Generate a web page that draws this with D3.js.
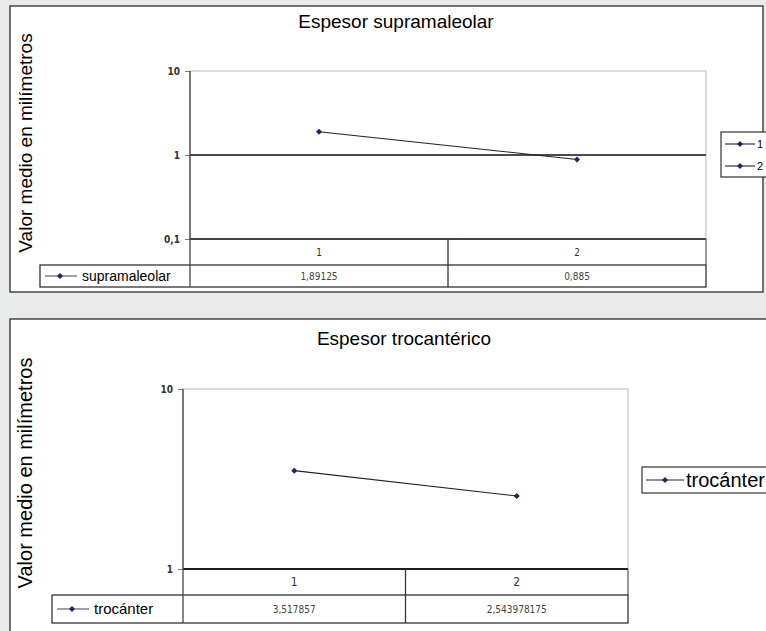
<!DOCTYPE html>
<html>
<head>
<meta charset="utf-8">
<script src="https://cdn.jsdelivr.net/npm/d3@7"></script>
<style>
  body { margin:0; background:#e9ebea; }
  svg { display:block; font-family:"Liberation Sans", Arial, sans-serif; }
</style>
</head>
<body>
<div id="chart"></div>
<script>
// data
var categories = ["1", "2"];
var supraValues = [1.89125, 0.885];
var supraLabels = ["1,89125", "0,885"];
var supraTicks = [0.1, 1, 10];
var trocValues = [3.517857, 2.543978175];
var trocLabels = ["3,517857", "2,543978175"];
var trocTicks = [1, 10];

var W = 766, H = 631;
var svg = d3.select('#chart').append('svg')
            .attr('width', W).attr('height', H);

var navy = '#23235e';
var fmtTick = function(v) { return String(v).replace('.', ','); };

// excel-like diamond: a square turned 45 degrees
var marker = d3.symbol().type(d3.symbolSquare).size(18);
var at = function(px, py) { return 'translate(' + px + ',' + py + ') rotate(45)'; };

var drawPanel = function(p) {
  var g = svg.append('g');

  // panel frame
  g.append('rect')
    .attr('x', p.box[0]).attr('y', p.box[1])
    .attr('width', p.box[2]).attr('height', p.box[3])
    .attr('fill', '#fff').attr('stroke', '#2b2b2b').attr('stroke-width', 1.3);

  g.append('text')
    .attr('x', p.titleX).attr('y', p.titleY)
    .attr('text-anchor', 'middle')
    .style('font-size', p.titleSize + 'px')
    .text(p.title);

  g.append('text')
    .attr('transform', 'translate(' + p.ylabX + ',' + p.ylabY + ') rotate(-90)')
    .attr('text-anchor', 'middle')
    .style('font-size', p.ylabSize + 'px')
    .text('Valor medio en milímetros');

  var x = d3.scaleBand().domain(categories).range([p.x0, p.x1]);
  var y = d3.scaleLog().domain(p.domain).range([p.yBot, p.yTop]);

  // plot area border (light)
  g.append('rect')
    .attr('x', p.x0).attr('y', p.yTop)
    .attr('width', p.x1 - p.x0).attr('height', p.yBot - p.yTop)
    .attr('fill', 'none').attr('stroke', '#c9c2bd').attr('stroke-width', 1.2);

  // y axis
  var yAxis = d3.axisLeft(y).tickValues(p.ticks).tickFormat(fmtTick)
                .tickSizeInner(5).tickSizeOuter(0).tickPadding(5);
  var ya = g.append('g').attr('transform', 'translate(' + p.x0 + ',0)').call(yAxis);
  ya.select('.domain').remove();
  ya.selectAll('line').attr('stroke', '#777');
  ya.selectAll('text').style('font-size', '10px').attr('fill', '#333')
    .style('font-weight', 'bold')
    .style('font-family', '"DejaVu Sans Condensed", "DejaVu Sans", sans-serif');

  // category axis line at 1
  g.append('line')
    .attr('x1', p.x0).attr('x2', p.x1)
    .attr('y1', y(1)).attr('y2', y(1))
    .attr('stroke', '#111').attr('stroke-width', 1.5);

  // data table
  var t = p.table;
  g.append('line').attr('x1', p.x0).attr('x2', p.x1)
    .attr('y1', p.yBot).attr('y2', p.yBot)
    .attr('stroke', '#111').attr('stroke-width', 1.5);
  g.append('rect')
    .attr('x', t.left).attr('y', t.mid)
    .attr('width', p.x1 - t.left).attr('height', t.bot - t.mid)
    .attr('fill', 'none').attr('stroke', '#333').attr('stroke-width', 1.3);
  g.append('line').attr('x1', p.x1).attr('x2', p.x1)
    .attr('y1', p.yBot).attr('y2', t.mid)
    .attr('stroke', '#555').attr('stroke-width', 1.2);
  // left axis line through the table
  g.append('line').attr('x1', p.x0).attr('x2', p.x0)
    .attr('y1', p.yTop).attr('y2', t.bot)
    .attr('stroke', '#444').attr('stroke-width', 1.3);
  // divider between categories
  g.selectAll('.div').data(categories.slice(1)).enter().append('line')
    .attr('x1', function(d) { return x(d); }).attr('x2', function(d) { return x(d); })
    .attr('y1', p.yBot).attr('y2', t.bot)
    .attr('stroke', '#333').attr('stroke-width', 1.3);

  g.selectAll('.cat').data(categories).enter().append('text')
    .attr('x', function(d) { return x(d) + x.bandwidth() / 2; })
    .attr('y', (p.yBot + t.mid) / 2 + 4)
    .attr('text-anchor', 'middle')
    .style('font-size', p.catSize + 'px')
    .style('font-family', '"DejaVu Sans Condensed", "DejaVu Sans", sans-serif')
    .attr('fill', '#333')
    .text(function(d) { return d; });

  g.selectAll('.val').data(p.labels).enter().append('text')
    .attr('x', function(d, i) { return x(categories[i]) + x.bandwidth() / 2; })
    .attr('y', (t.mid + t.bot) / 2 + 4)
    .attr('text-anchor', 'middle')
    .style('font-size', '10px')
    .style('font-family', '"DejaVu Sans Condensed", "DejaVu Sans", sans-serif')
    .attr('fill', '#444')
    .text(function(d) { return d; });

  // legend key inside table
  var ky = (t.mid + t.bot) / 2;
  g.append('line').attr('x1', t.left + 5).attr('x2', t.left + 37)
    .attr('y1', ky).attr('y2', ky).attr('stroke', '#444').attr('stroke-width', 1);
  g.append('path').attr('d', marker)
    .attr('transform', at(t.left + 20, ky)).attr('fill', navy);
  g.append('text').attr('x', t.left + 42).attr('y', ky + 5)
    .style('font-size', p.keySize + 'px').text(p.series);

  // line + markers
  var line = d3.line()
    .x(function(d, i) { return x(categories[i]) + x.bandwidth() / 2; })
    .y(function(d) { return y(d); });
  g.append('path').datum(p.values).attr('d', line)
    .attr('fill', 'none').attr('stroke', '#222').attr('stroke-width', 1.1);
  g.selectAll('.pt').data(p.values).enter().append('path')
    .attr('d', marker)
    .attr('transform', function(d, i) {
      return at(x(categories[i]) + x.bandwidth() / 2, y(d));
    })
    .attr('fill', navy);

  // right legend
  var L = p.legend;
  g.append('rect').attr('x', L.x).attr('y', L.y).attr('width', 200).attr('height', L.h)
    .attr('fill', '#fff').attr('stroke', '#333').attr('stroke-width', 1.2);
  L.items.forEach(function(name, i) {
    var ly = L.y + L.first + i * L.step;
    g.append('line').attr('x1', L.x + 4).attr('x2', L.x + L.len)
      .attr('y1', ly).attr('y2', ly).attr('stroke', '#222').attr('stroke-width', 1.1);
    g.append('path').attr('d', marker)
      .attr('transform', at(L.x + 4 + (L.len - 4) / 2, ly))
      .attr('fill', navy);
    g.append('text').attr('x', L.x + L.len + 2).attr('y', ly + L.size * 0.36)
      .style('font-size', L.size + 'px').text(name);
  });
};

drawPanel({
  box: [10, 6, 753, 286],
  title: 'Espesor supramaleolar', titleX: 396, titleY: 28, titleSize: 19,
  ylabX: 32, ylabY: 143, ylabSize: 19,
  x0: 190, x1: 706, yTop: 71, yBot: 239,
  domain: [0.1, 10], ticks: supraTicks,
  values: supraValues, labels: supraLabels,
  table: { left: 40, mid: 265, bot: 287 },
  catSize: 10, keySize: 14, series: 'supramaleolar',
  legend: { x: 721, y: 132, h: 45, first: 12, step: 22, len: 34, size: 11, items: categories }
});

drawPanel({
  box: [10, 319, 800, 400],
  title: 'Espesor trocantérico', titleX: 404, titleY: 345, titleSize: 19,
  ylabX: 32, ylabY: 473, ylabSize: 20,
  x0: 183, x1: 628, yTop: 389, yBot: 569,
  domain: [1, 10], ticks: trocTicks,
  values: trocValues, labels: trocLabels,
  table: { left: 52, mid: 595, bot: 623 },
  catSize: 12, keySize: 15, series: 'trocánter',
  legend: { x: 642, y: 467, h: 26, first: 13, step: 0, len: 42, size: 20, items: ['trocánter'] }
});
</script>
</body>
</html>
